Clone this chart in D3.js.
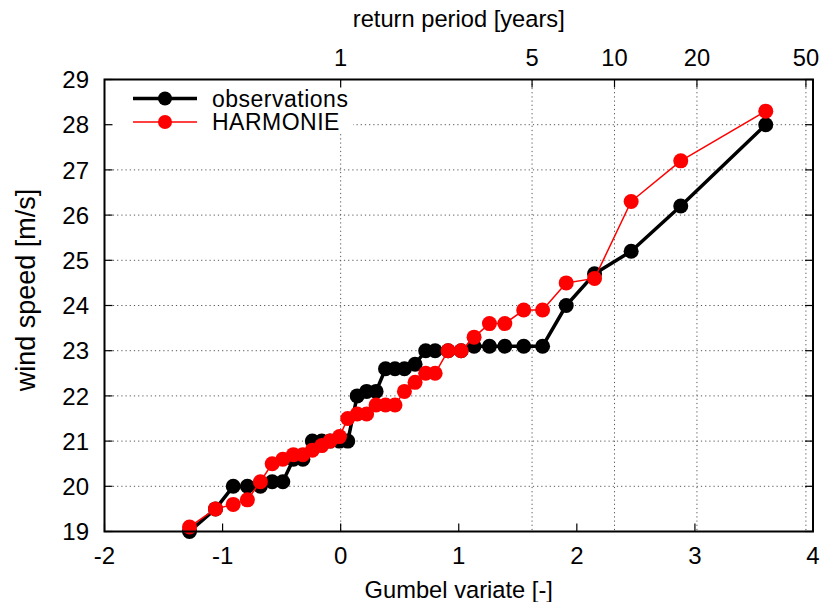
<!DOCTYPE html>
<html><head><meta charset="utf-8">
<script src="https://cdn.jsdelivr.net/npm/d3@7"></script>
<style>
body{margin:0;background:#fff}
text{font-family:"Liberation Sans",Arial,Helvetica,sans-serif;fill:#000}
</style>
</head><body>
<svg id="chart" width="822" height="602"></svg>
<script>
// Gumbel reduced variate of each ranked value
const gumbel = [-1.28,-1.06,-0.91,-0.79,-0.68,-0.58,-0.49,-0.40,-0.32,-0.24,-0.16,-0.09,-0.01,0.06,0.14,0.22,0.30,0.38,0.46,0.54,0.63,0.72,0.80,0.91,1.02,1.13,1.26,1.39,1.55,1.71,1.91,2.15,2.46,2.88,3.60];
const observations = [19.0,19.5,20.0,20.0,20.0,20.1,20.1,20.6,20.6,21.0,21.0,21.0,21.0,21.0,22.0,22.1,22.1,22.6,22.6,22.6,22.7,23.0,23.0,23.0,23.0,23.1,23.1,23.1,23.1,23.1,24.0,24.7,25.2,26.2,28.0];
const harmonie = [19.1,19.5,19.6,19.7,20.1,20.5,20.6,20.7,20.7,20.8,20.9,21.0,21.1,21.5,21.6,21.6,21.8,21.8,21.8,22.1,22.3,22.5,22.5,23.0,23.0,23.3,23.6,23.6,23.9,23.9,24.5,24.6,26.3,27.2,28.3];
const xTickValues = [-2,-1,0,1,2,3,4];
const yTickValues = [19,20,21,22,23,24,25,26,27,28,29];
const returnPeriods = [1,5,10,20,50];
const seriesNames = ["observations","HARMONIE"];
const seriesColors = ["#000000","#ff0000"];

const svg = d3.select("#chart");
const L = 104.5, R = 813, T = 79.5, B = 531.5;
const x = d3.scaleLinear().domain([-2,4]).range([L,R]);
const y = d3.scaleLinear().domain([19,29]).range([B,T]);
const x2 = d3.scaleLog().domain([1,50]).range([x(0), x(3.94)]);

const tickFont = "24px", titleFont = "23.7px", legendFont = "23px", yTitleFont = "27px";

// grid
const grid = svg.append("g").attr("stroke","#555").attr("stroke-width",1).attr("stroke-dasharray","1.2,3");
grid.selectAll("line.h").data(yTickValues.slice(1,-1)).enter().append("line")
  .attr("x1",L).attr("x2",R).attr("y1",d=>y(d)).attr("y2",d=>y(d));
grid.selectAll("line.v").data(returnPeriods).enter().append("line")
  .attr("x1",d=>x2(d)).attr("x2",d=>x2(d)).attr("y1",T).attr("y2",B);

// legend background (opaque key)
svg.append("rect").attr("x",107).attr("y",84).attr("width",246).attr("height",49).attr("fill","#fff");

// axes ticks (inward)
const tk = svg.append("g").attr("stroke","#000").attr("stroke-width",1.2);
tk.selectAll("line.yl").data(yTickValues).enter().append("line")
  .attr("x1",L).attr("x2",L+8).attr("y1",d=>y(d)).attr("y2",d=>y(d));
tk.selectAll("line.yr").data(yTickValues).enter().append("line")
  .attr("x1",R).attr("x2",R-8).attr("y1",d=>y(d)).attr("y2",d=>y(d));
tk.selectAll("line.xb").data(xTickValues).enter().append("line")
  .attr("x1",d=>x(d)).attr("x2",d=>x(d)).attr("y1",B).attr("y2",B-8);
tk.selectAll("line.xt").data(returnPeriods).enter().append("line")
  .attr("x1",d=>x2(d)).attr("x2",d=>x2(d)).attr("y1",T).attr("y2",T+8);

// tick labels
svg.append("g").selectAll("text").data(yTickValues).enter().append("text")
  .attr("x",89).attr("y",d=>y(d)).attr("dy","0.36em").attr("text-anchor","end")
  .style("font-size",tickFont).text(d=>d);
svg.append("g").selectAll("text").data(xTickValues).enter().append("text")
  .attr("x",d=>x(d)).attr("y",564).attr("text-anchor","middle")
  .style("font-size",tickFont).text(d=>d);
svg.append("g").selectAll("text").data(returnPeriods).enter().append("text")
  .attr("x",d=>x2(d)).attr("y",66).attr("text-anchor","middle")
  .style("font-size",titleFont).text(d=>d);

// axis titles
const cx = (L+R)/2;
svg.append("text").attr("x",cx).attr("y",598).attr("text-anchor","middle")
  .style("font-size",titleFont).text("Gumbel variate [-]");
svg.append("text").attr("x",cx).attr("y",27).attr("text-anchor","middle")
  .style("font-size",titleFont).text("return period [years]");
svg.append("text").attr("transform","translate(35,290) rotate(-90)").attr("text-anchor","middle")
  .style("font-size",yTitleFont).text("wind speed [m/s]");

// series
const allSeries = [observations, harmonie];
const widths = [3.5, 1.5];
allSeries.forEach((vals,i)=>{
  const pts = gumbel.map((g,j)=>[g, vals[j]]);
  svg.append("path").datum(pts)
    .attr("fill","none").attr("stroke",seriesColors[i]).attr("stroke-width",widths[i])
    .attr("stroke-linejoin","round")
    .attr("d", d3.line().x(d=>x(d[0])).y(d=>y(d[1])));
  svg.append("g").selectAll("circle").data(pts).enter().append("circle")
    .attr("cx",d=>x(d[0])).attr("cy",d=>y(d[1])).attr("r",7.5).attr("fill",seriesColors[i]);
});

// legend
const lg = svg.append("g");
seriesNames.forEach((n,i)=>{
  const yy = 98.5 + i*23.5;
  lg.append("line").attr("x1",133).attr("x2",197).attr("y1",yy).attr("y2",yy)
    .attr("stroke",seriesColors[i]).attr("stroke-width",widths[i]);
  lg.append("circle").attr("cx",165).attr("cy",yy).attr("r",7).attr("fill",seriesColors[i]);
  lg.append("text").attr("x",212).attr("y",yy).attr("dy","0.35em")
    .style("font-size",legendFont).style("letter-spacing","0.5px").text(n);
});

// border
svg.append("rect").attr("x",L).attr("y",T).attr("width",R-L).attr("height",B-T)
  .attr("fill","none").attr("stroke","#000").attr("stroke-width",2);
</script>
</body></html>
